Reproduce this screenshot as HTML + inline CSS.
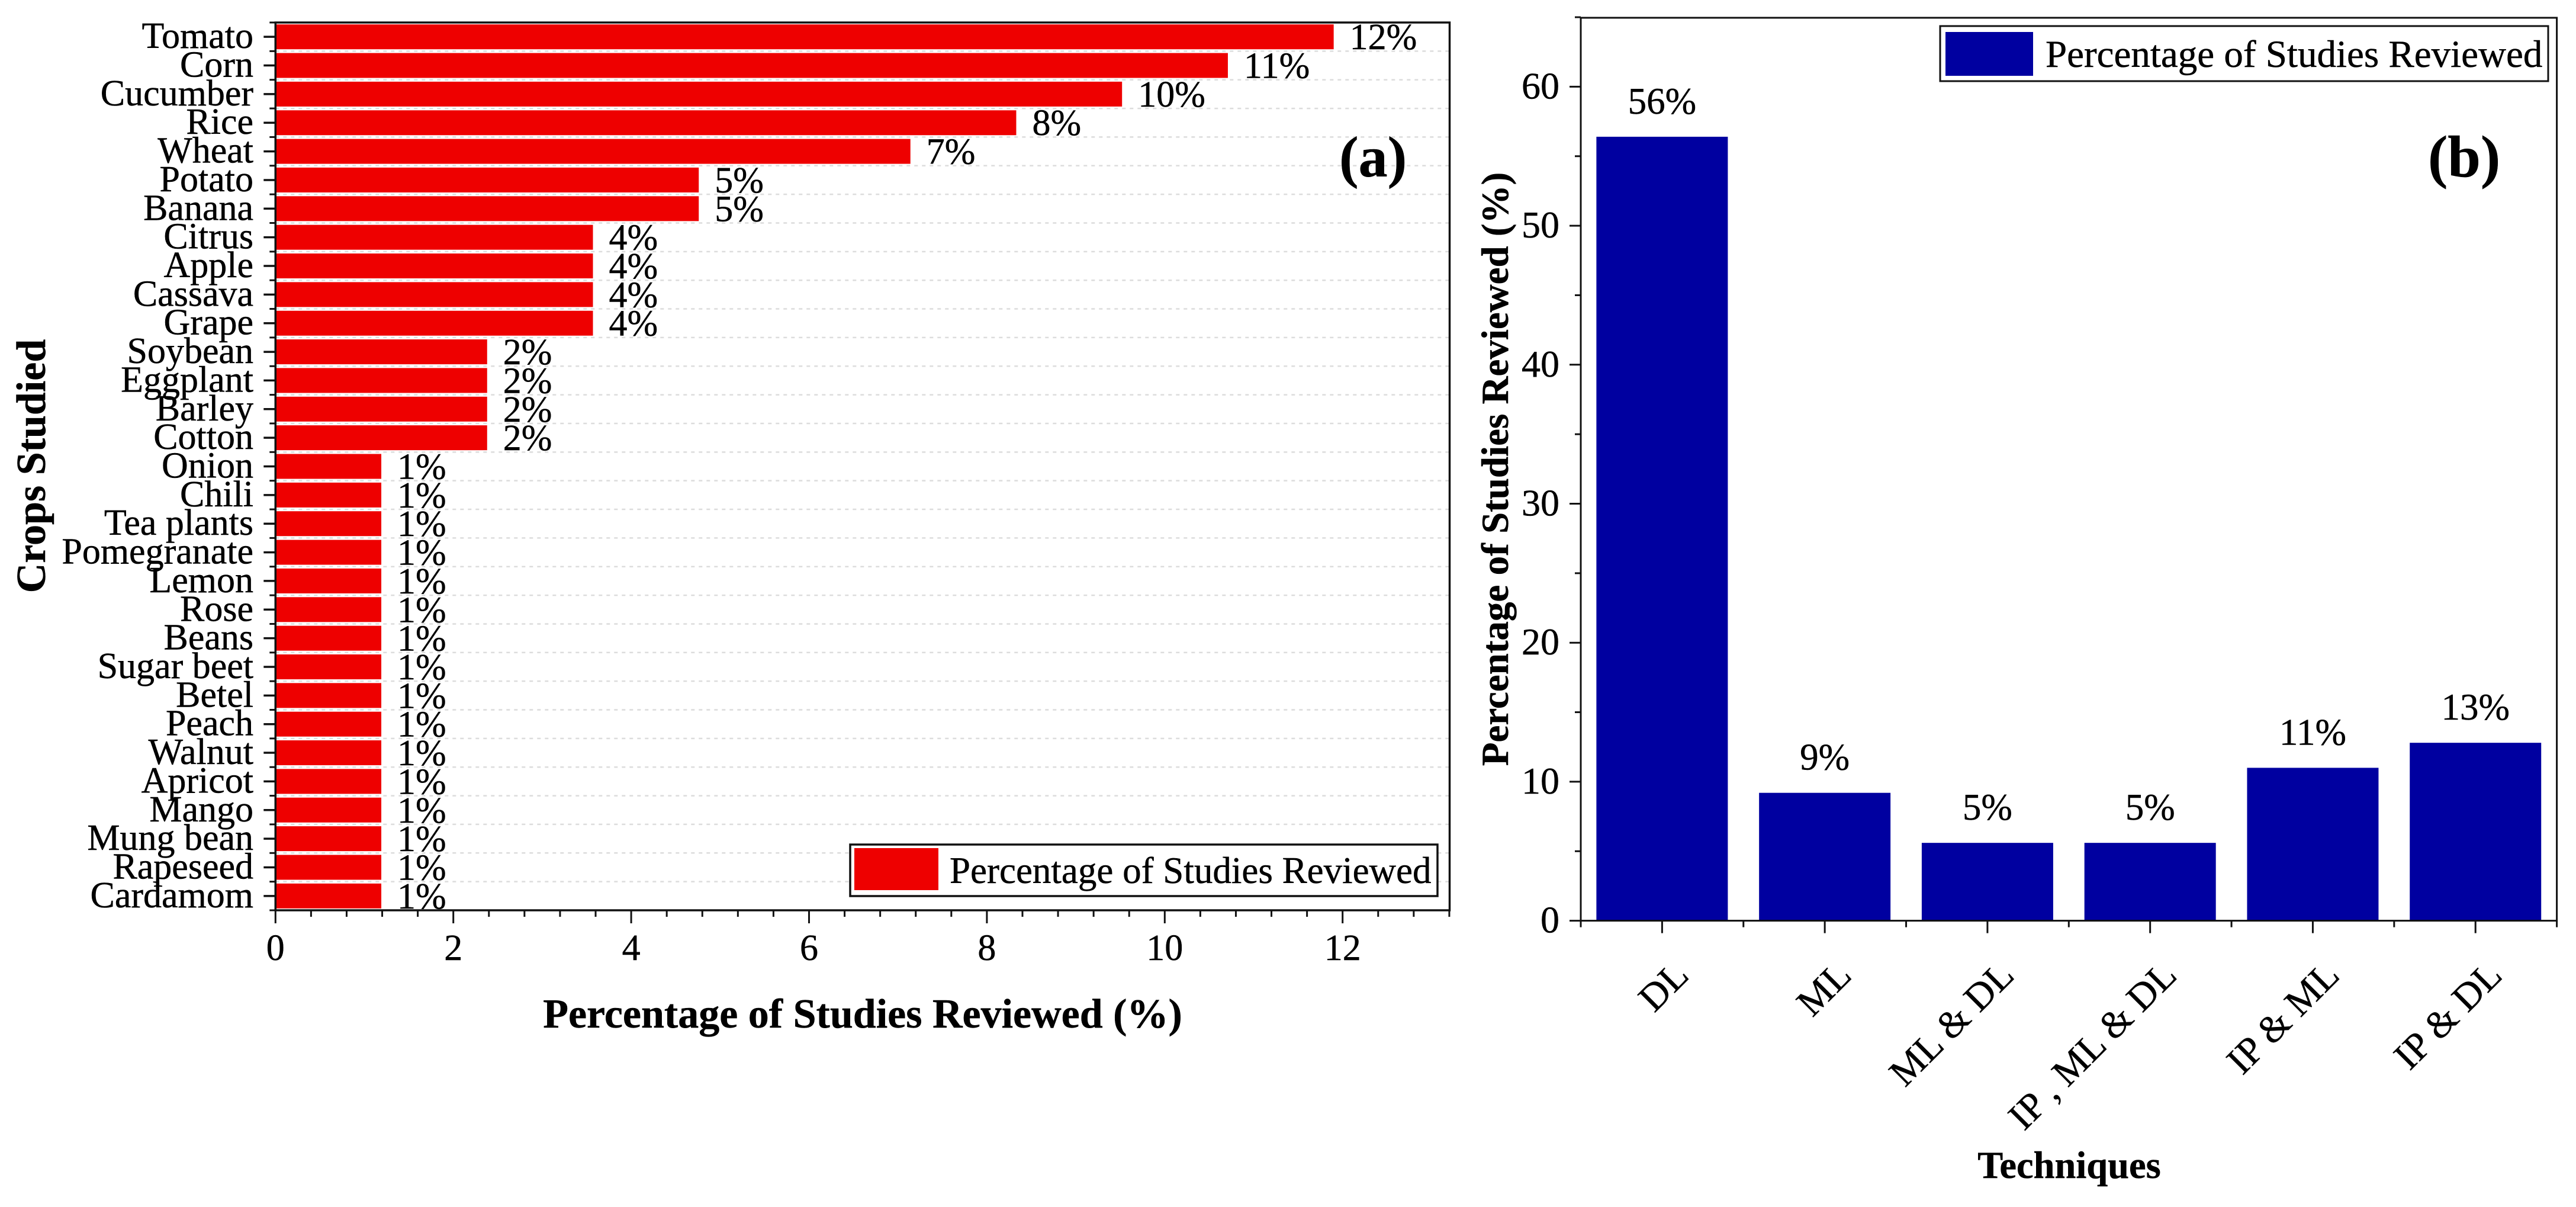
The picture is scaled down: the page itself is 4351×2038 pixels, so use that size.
<!DOCTYPE html>
<html lang="en">
<head>
<meta charset="utf-8">
<title>Crops studied and techniques reviewed</title>
<style>
html,body{margin:0;padding:0;background:#fff;}
svg{display:block;}
text{font-family:"Liberation Serif","Times New Roman",serif;fill:#000;stroke:#000;stroke-width:0.5px;}
</style>
</head>
<body>
<svg id="figure" xmlns="http://www.w3.org/2000/svg" width="4351" height="2038" viewBox="0 0 4351 2038">
  <rect x="0" y="0" width="4351" height="2038" fill="#fff"/>
  <g id="panel-a"></g>
  <g id="panel-b"></g>

  <text x="1457" y="1735" text-anchor="middle" font-size="70" font-weight="bold">Percentage of Studies Reviewed (%)</text>
  <text transform="translate(76 787) rotate(-90)" text-anchor="middle" font-size="70" font-weight="bold">Crops Studied</text>
  <text x="2262" y="298" font-size="98" font-weight="bold">(a)</text>

  <g>
    <rect x="1436" y="1426" width="992" height="87" fill="#fff" stroke="#111" stroke-width="3.5"/>
    <rect x="1443" y="1432" width="142" height="71" fill="#ee0000"/>
    <text x="1604" y="1491" font-size="63">Percentage of Studies Reviewed</text>
  </g>

  <text x="3495" y="1989" text-anchor="middle" font-size="64.5" font-weight="bold">Techniques</text>
  <text transform="translate(2547 792) rotate(-90)" text-anchor="middle" font-size="65" font-weight="bold">Percentage of Studies Reviewed (%)</text>
  <text x="4101" y="298" font-size="100" font-weight="bold">(b)</text>

  <g>
    <rect x="3277" y="44" width="1027" height="93" fill="#fff" stroke="#111" stroke-width="3"/>
    <rect x="3286" y="54" width="148" height="74" fill="#0000a0"/>
    <text x="3455" y="113" font-size="65">Percentage of Studies Reviewed</text>
  </g>
</svg>

<script>
// ---- Panel (a) data ----
const cropNames = ["Tomato","Corn","Cucumber","Rice","Wheat","Potato","Banana","Citrus","Apple","Cassava","Grape","Soybean","Eggplant","Barley","Cotton","Onion","Chili","Tea plants","Pomegranate","Lemon","Rose","Beans","Sugar beet","Betel","Peach","Walnut","Apricot","Mango","Mung bean","Rapeseed","Cardamom"];
const cropShares = [11.9,10.71,9.52,8.33,7.14,4.76,4.76,3.57,3.57,3.57,3.57,2.38,2.38,2.38,2.38,1.19,1.19,1.19,1.19,1.19,1.19,1.19,1.19,1.19,1.19,1.19,1.19,1.19,1.19,1.19,1.19];
const cropValueLabels = ["12%","11%","10%","8%","7%","5%","5%","4%","4%","4%","4%","2%","2%","2%","2%","1%","1%","1%","1%","1%","1%","1%","1%","1%","1%","1%","1%","1%","1%","1%","1%"];
const cropAxisTicks = [0,2,4,6,8,10,12];
const cropAxisMinorTicks = [0.4,0.8,1.2,1.6,2.4,2.8,3.2,3.6,4.4,4.8,5.2,5.6,6.4,6.8,7.2,7.6,8.4,8.8,9.2,9.6,10.4,10.8,11.2,11.6,12.4,12.8,13.2];

// ---- Panel (b) data ----
const techniqueNames = ["DL","ML","ML & DL","IP , ML & DL","IP & ML","IP & DL"];
const techniqueShares = [56.4,9.2,5.6,5.6,11.0,12.8];
const techniqueValueLabels = ["56%","9%","5%","5%","11%","13%"];
const techniqueAxisTicks = [0,10,20,30,40,50,60];
const techniqueAxisMinorTicks = [5,15,25,35,45,55,65];

const SVGNS = "http://www.w3.org/2000/svg";
function make(tag, parent, attrs, content) {
  const node = document.createElementNS(SVGNS, tag);
  for (const k in attrs) node.setAttribute(k, attrs[k]);
  if (content !== undefined) node.textContent = content;
  parent.appendChild(node);
  return node;
}

// ---- Panel (a) scales ----
const aLeft = 465.3, aRight = 2448.5, aTop = 38, aBottom = 1537, aPerUnit = 150.2;
const aBand = (aBottom - aTop) / cropNames.length;
const aBarHeight = 42;
function xA(v) { return aLeft + v * aPerUnit; }
function yA(i) { return aTop + (i + 0.5) * aBand; }
function yAEdge(i) { return aTop + i * aBand; }

const panelA = document.getElementById("panel-a");

for (let i = 1; i < cropNames.length; i++) {
  const grid = make("line", panelA, {x1: aLeft, x2: aRight, y1: yAEdge(i), y2: yAEdge(i), stroke: "#dcdcdc", "stroke-width": 2.5, "stroke-dasharray": "6 7"});
  
  
}

cropNames.forEach(function (name, i) {
  const bar = make("rect", panelA, {x: xA(0), y: yA(i) - aBarHeight / 2, width: xA(cropShares[i]) - xA(0), height: aBarHeight, fill: "#ee0000"});
  
  

  const label = make("text", panelA, {x: 428, y: yA(i) + 19, "text-anchor": "end", "font-size": 62}, name);
  
  

  const tick = make("line", panelA, {x1: aLeft - 20, x2: aLeft, y1: yA(i), y2: yA(i), stroke: "#111", "stroke-width": 3.5});
  
  

  const value = make("text", panelA, {x: xA(cropShares[i]) + 27, y: yA(i) + 21, "font-size": 62}, cropValueLabels[i]);
  
  
});

for (let i = 0; i <= cropNames.length; i++) {
  const minorY = make("line", panelA, {x1: aLeft - 10, x2: aLeft, y1: yAEdge(i), y2: yAEdge(i), stroke: "#111", "stroke-width": 3});
  
  
}

cropAxisTicks.forEach(function (t) {
  const tick = make("line", panelA, {x1: xA(t), x2: xA(t), y1: aBottom, y2: aBottom + 22, stroke: "#111", "stroke-width": 3});
  
  

  const label = make("text", panelA, {x: xA(t), y: 1621, "text-anchor": "middle", "font-size": 62}, String(t));
  
  
});

cropAxisMinorTicks.forEach(function (t) {
  const tick = make("line", panelA, {x1: xA(t), x2: xA(t), y1: aBottom, y2: aBottom + 11, stroke: "#111", "stroke-width": 3});
  
  
});

const frameA = make("rect", panelA, {x: aLeft, y: aTop, width: aRight - aLeft, height: aBottom - aTop, fill: "none", stroke: "#111", "stroke-width": 3.5});



// ---- Panel (b) scales ----
const bLeft = 2670, bRight = 4318.6, bTop = 30, bBottom = 1554.6, bPerUnit = 23.47;
const bBand = (bRight - bLeft) / techniqueNames.length;
const bBarWidth = 222;
function xB(i) { return bLeft + (i + 0.5) * bBand; }
function xBEdge(i) { return bLeft + i * bBand; }
function yB(v) { return bBottom - v * bPerUnit; }

const panelB = document.getElementById("panel-b");

techniqueNames.forEach(function (name, i) {
  const bar = make("rect", panelB, {x: xB(i) - bBarWidth / 2, y: yB(techniqueShares[i]), width: bBarWidth, height: yB(0) - yB(techniqueShares[i]), fill: "#0000a0"});
  
  

  const value = make("text", panelB, {x: xB(i), y: yB(techniqueShares[i]) - 39, "text-anchor": "middle", "font-size": 63}, techniqueValueLabels[i]);
  
  

  const tick = make("line", panelB, {x1: xB(i), x2: xB(i), y1: bBottom, y2: bBottom + 21, stroke: "#111", "stroke-width": 3});
  
  

  const ax = xB(i) + 48, ay = 1650;
  const label = make("text", panelB, {transform: "translate(" + ax + " " + ay + ") rotate(-45)", "text-anchor": "end", "font-size": 65}, name);
  
  
});

for (let i = 0; i <= techniqueNames.length; i++) {
  const minorX = make("line", panelB, {x1: xBEdge(i), x2: xBEdge(i), y1: bBottom, y2: bBottom + 11, stroke: "#111", "stroke-width": 3});
  
  
}

techniqueAxisTicks.forEach(function (t) {
  const tick = make("line", panelB, {x1: bLeft - 19, x2: bLeft, y1: yB(t), y2: yB(t), stroke: "#111", "stroke-width": 3});
  
  

  const label = make("text", panelB, {x: 2634, y: yB(t) + 20, "text-anchor": "end", "font-size": 64}, String(t));
  
  
});

techniqueAxisMinorTicks.forEach(function (t) {
  const tick = make("line", panelB, {x1: bLeft - 10, x2: bLeft, y1: yB(t), y2: yB(t), stroke: "#111", "stroke-width": 3});
  
  
});

const frameB = make("rect", panelB, {x: bLeft, y: bTop, width: bRight - bLeft, height: bBottom - bTop, fill: "none", stroke: "#111", "stroke-width": 3});


</script>
</body>
</html>
